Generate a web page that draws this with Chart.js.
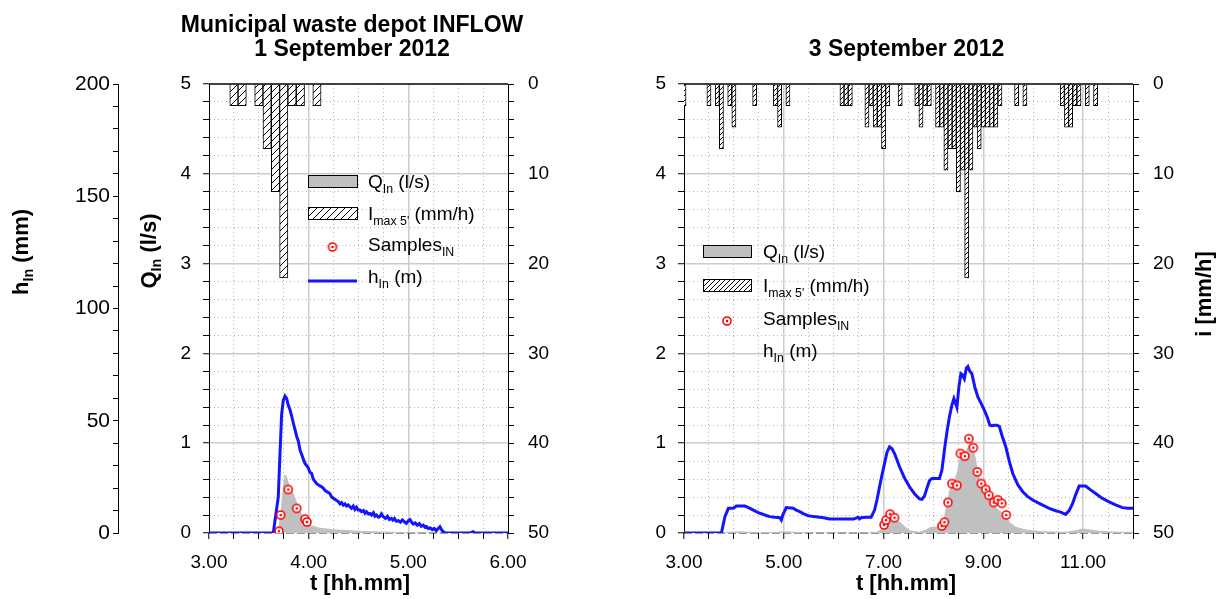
<!DOCTYPE html>
<html>
<head>
<meta charset="utf-8">
<script src="https://cdn.jsdelivr.net/npm/chart.js@4.4.0/dist/chart.umd.min.js"></script>
<style>
  html, body { margin: 0; padding: 0; background: #fff; }
  #wrap { position: relative; width: 1219px; height: 599px; overflow: hidden; }
  canvas { position: absolute; top: 0; }
  #left { left: 0; }
  #right { left: 600px; }
</style>
</head>
<body>
<div id="wrap">
  <canvas id="left" width="600" height="599"></canvas>
  <canvas id="right" width="619" height="599"></canvas>
</div>
<script>
// ---- data: [time (h), value] ----
// 1 September 2012
const rain1 = [[3.25, 2.4], [3.333, 2.4], [3.5, 2.4], [3.583, 7.2], [3.667, 12.0], [3.75, 21.6],
  [3.833, 2.4], [3.917, 2.4], [4.083, 2.4]];
const flow1 = [[3.0, 0], [3.68, 0], [3.7, 0.08], [3.72, 0.25], [3.74, 0.5], [3.76, 0.66], [3.78, 0.63],
  [3.8, 0.56], [3.83, 0.48], [3.85, 0.44], [3.88, 0.35], [3.91, 0.26], [3.95, 0.17], [3.98, 0.13],
  [4.02, 0.09], [4.05, 0.078], [4.1, 0.06], [4.18, 0.05], [4.28, 0.04], [4.38, 0.033], [4.5, 0.025],
  [4.71, 0.018], [4.9, 0.01], [5.2, 0.005], [5.5, 0], [6.0, 0]];
const level1 = [[3.0, 0], [3.645, 0], [3.695, 16], [3.712, 35], [3.729, 53], [3.745, 59], [3.762, 61],
  [3.779, 60], [3.795, 57], [3.812, 55], [3.83, 52], [3.846, 49], [3.863, 46], [3.88, 43], [3.896, 41],
  [3.913, 37], [3.93, 35], [3.946, 33], [3.963, 31], [3.98, 30], [3.996, 29], [4.013, 27], [4.03, 26.5],
  [4.046, 24], [4.063, 23], [4.08, 22], [4.096, 21.5], [4.113, 21], [4.13, 20.6], [4.146, 20], [4.163, 19],
  [4.18, 18.5], [4.197, 18], [4.214, 17.5], [4.23, 16], [4.247, 15.5], [4.264, 15], [4.28, 14.5],
  [4.297, 14], [4.314, 13], [4.33, 13.5], [4.347, 12.4], [4.364, 13], [4.38, 12], [4.397, 12.5],
  [4.414, 11.7], [4.43, 11], [4.447, 12], [4.464, 10.5], [4.48, 11.5], [4.497, 10.2], [4.515, 10.2],
  [4.53, 9.5], [4.55, 10], [4.565, 8.8], [4.58, 9.5], [4.6, 8.5], [4.615, 8.7], [4.63, 8], [4.65, 9],
  [4.665, 7.5], [4.68, 8], [4.7, 7], [4.715, 7.3], [4.73, 8.5], [4.75, 7.2], [4.77, 6.5], [4.79, 7.5],
  [4.81, 6], [4.83, 6.5], [4.845, 5.8], [4.86, 6.5], [4.88, 5.2], [4.9, 5.5], [4.92, 4.8], [4.94, 5.8],
  [4.96, 5], [4.98, 4.3], [5.0, 5.5], [5.016, 6], [5.03, 5], [5.05, 4], [5.07, 4.5], [5.09, 3.5],
  [5.11, 4.2], [5.13, 3], [5.15, 3.5], [5.17, 2.5], [5.184, 2.8], [5.2, 2], [5.22, 2.3], [5.24, 1.5],
  [5.26, 2], [5.28, 1], [5.3, 2], [5.317, 2.8], [5.34, 1], [5.367, 0], [5.62, 0], [5.648, 0.6],
  [5.67, 0], [6.0, 0]];
const samples1 = [[3.702, 0.02], [3.719, 0.2], [3.795, 0.485], [3.88, 0.274], [3.963, 0.155], [3.983, 0.122]];

// 3 September 2012
const rain3 = [[3.0, 2.4], [3.5, 2.4], [3.667, 2.4], [3.75, 7.2], [3.917, 2.4], [4.0, 4.8], [4.417, 2.4],
  [4.833, 2.4], [4.917, 4.8], [5.083, 2.4], [6.167, 2.4], [6.25, 2.4], [6.333, 2.4], [6.667, 4.8],
  [6.75, 2.4], [6.833, 4.8], [6.917, 4.8], [7.0, 7.2], [7.083, 2.4], [7.333, 2.4], [7.667, 2.4],
  [7.75, 4.8], [7.833, 2.4], [7.917, 2.4], [8.083, 4.8], [8.167, 4.8], [8.25, 9.6], [8.333, 7.2],
  [8.417, 7.2], [8.5, 12.0], [8.583, 9.6], [8.667, 21.6], [8.75, 9.6], [8.833, 4.8], [8.917, 7.2],
  [9.0, 4.8], [9.083, 4.8], [9.167, 4.8], [9.25, 4.8], [9.333, 2.4], [9.667, 2.4], [9.833, 2.4],
  [10.583, 2.4], [10.667, 4.8], [10.75, 4.8], [10.833, 2.4], [10.917, 2.4], [11.083, 2.4], [11.25, 2.4]];
const flow3 = [[3.0, 0], [3.6, 0], [3.75, 0.005], [3.9, 0.015], [4.1, 0.02], [4.4, 0.01], [4.8, 0.01],
  [5.0, 0.02], [5.2, 0.015], [5.6, 0.005], [6.2, 0.005], [6.6, 0.005], [6.85, 0.01], [6.95, 0.04],
  [7.0, 0.07], [7.1, 0.12], [7.19, 0.144], [7.25, 0.14], [7.32, 0.126], [7.4, 0.09], [7.52, 0.03],
  [7.72, 0.015], [7.85, 0.04], [7.95, 0.07], [8.12, 0.07], [8.2, 0.15], [8.25, 0.29], [8.32, 0.48],
  [8.42, 0.59], [8.48, 0.7], [8.51, 0.81], [8.55, 0.85], [8.65, 0.92], [8.72, 1.0], [8.75, 1.01],
  [8.82, 0.92], [8.89, 0.7], [8.99, 0.48], [9.12, 0.37], [9.25, 0.29], [9.39, 0.22], [9.52, 0.126],
  [9.65, 0.07], [9.85, 0.04], [10.19, 0.02], [10.65, 0.015], [10.85, 0.03], [10.99, 0.05],
  [11.15, 0.04], [11.32, 0.025], [11.7, 0.015], [12.0, 0.015]];
const level3 = [[3.0, 0], [3.75, 0], [3.82, 7.3], [3.89, 11], [3.99, 11], [4.05, 12], [4.22, 12],
  [4.27, 11.5], [4.32, 11], [4.38, 10.3], [4.45, 9.5], [4.52, 8.8], [4.59, 8.3], [4.65, 7.8], [4.72, 7.3],
  [4.82, 7], [4.92, 6.8], [4.95, 5.8], [4.98, 8], [5.05, 11.3], [5.19, 11], [5.25, 10.2], [5.32, 9.5],
  [5.4, 8.5], [5.49, 7.7], [5.6, 7.3], [5.72, 7], [5.8, 6.8], [5.92, 6.2], [6.1, 6.2], [6.25, 6.2],
  [6.4, 6.2], [6.49, 7], [6.52, 6.3], [6.55, 6.8], [6.65, 7], [6.75, 7], [6.82, 10.2], [6.87, 15],
  [6.92, 20.6], [6.97, 26], [7.02, 31], [7.07, 36], [7.12, 38.4], [7.17, 37.5], [7.22, 35.4],
  [7.27, 32.5], [7.32, 29.5], [7.42, 24.5], [7.52, 20.6], [7.62, 17.5], [7.72, 15.2], [7.77, 15],
  [7.82, 16.5], [7.87, 20], [7.92, 23.3], [7.97, 24.3], [8.12, 24.3], [8.17, 28], [8.22, 36.9],
  [8.27, 45], [8.32, 51.7], [8.37, 57], [8.41, 59.9], [8.47, 56], [8.51, 65], [8.55, 71], [8.58, 70.5],
  [8.62, 68.7], [8.66, 73.5], [8.69, 74.2], [8.73, 72], [8.77, 71], [8.83, 65], [8.89, 60.6], [8.95, 58],
  [9.02, 54.7], [9.08, 51.5], [9.13, 48], [9.17, 47.8], [9.22, 48], [9.27, 48], [9.32, 47.5], [9.38, 43],
  [9.45, 38.4], [9.52, 32], [9.59, 26.5], [9.69, 21.5], [9.79, 18.4], [9.89, 16.2], [9.99, 14.7],
  [10.09, 13.5], [10.19, 12.4], [10.32, 11], [10.45, 9.9], [10.55, 9.3], [10.65, 8.3], [10.72, 10],
  [10.79, 13.2], [10.85, 17], [10.92, 20.9], [11.05, 20.9], [11.15, 19.2], [11.25, 17.6], [11.38, 15.5],
  [11.52, 13.9], [11.65, 12.5], [11.79, 11.3], [11.9, 11], [12.0, 11]];
const samples3 = [[7.01, 0.09], [7.05, 0.144], [7.13, 0.21], [7.22, 0.17], [8.17, 0.078], [8.22, 0.12],
  [8.29, 0.34], [8.37, 0.55], [8.47, 0.53], [8.54, 0.885], [8.63, 0.856], [8.71, 1.05], [8.8, 0.95],
  [8.88, 0.68], [8.96, 0.55], [9.05, 0.485], [9.11, 0.42], [9.21, 0.34], [9.29, 0.37], [9.37, 0.33],
  [9.46, 0.2]];

const FONT = 'Arial, "Liberation Sans", sans-serif';
Chart.defaults.font.family = FONT;
Chart.defaults.font.size = 19;
Chart.defaults.color = '#000';

const BLUE = '#1414ff';
const GREY = '#c0c0c0';

function pts(arr) { return arr.map(p => ({x: p[0], y: p[1]})); }
function isWhole(v) { return Math.abs(v - Math.round(v)) < 1e-6; }
function tickList(lo, hi, step) {
  const a = [];
  for (let k = 0; lo + k * step <= hi + 1e-9; k++) a.push({value: +(lo + k * step).toFixed(4)});
  return a;
}

function hatch(canvas, size) {
  const c = document.createElement('canvas');
  c.width = size; c.height = size;
  const g = c.getContext('2d');
  g.fillStyle = '#fff'; g.fillRect(0, 0, size, size);
  g.strokeStyle = '#000'; g.lineWidth = 1;
  g.beginPath();
  g.moveTo(0, size); g.lineTo(size, 0);
  g.moveTo(-1, 1); g.lineTo(1, -1);
  g.moveTo(size - 1, size + 1); g.lineTo(size + 1, size - 1);
  g.stroke();
  return canvas.getContext('2d').createPattern(c, 'repeat');
}

function sampleIcon() {
  const c = document.createElement('canvas');
  c.width = 12; c.height = 12;
  const g = c.getContext('2d');
  g.beginPath(); g.arc(6, 6, 4, 0, Math.PI * 2);
  g.fillStyle = '#fff'; g.fill();
  g.lineWidth = 1.6; g.strokeStyle = '#f00'; g.stroke();
  g.beginPath(); g.arc(6, 6, 1.3, 0, Math.PI * 2);
  g.fillStyle = '#f00'; g.fill();
  return c;
}
const ICON = sampleIcon();

// text with subscripts: parts = [[text, isSub], ...]
function rich(ctx, parts, x, y, size, bold, align) {
  const f = s => (bold ? 'bold ' : '') + s + 'px ' + FONT;
  let w = 0;
  parts.forEach(p => { ctx.font = f(p[1] ? size * 0.65 : size); w += ctx.measureText(p[0]).width; });
  let cx = align === 'center' ? x - w / 2 : x;
  ctx.textAlign = 'left';
  ctx.textBaseline = 'alphabetic';
  ctx.fillStyle = '#000';
  const base = y + size * 0.36;
  parts.forEach(p => {
    ctx.font = f(p[1] ? size * 0.65 : size);
    ctx.fillText(p[0], cx, p[1] ? base + size * 0.25 : base);
    cx += ctx.measureText(p[0]).width;
  });
}
function richV(ctx, parts, x, y, size) {
  ctx.save();
  ctx.translate(x, y);
  ctx.rotate(-Math.PI / 2);
  rich(ctx, parts, 0, 0, size, true, 'center');
  ctx.restore();
}

function drawLegend(ctx, L, pattern, withLine) {
  const bx = L.x, bw = L.w, tx = L.tx;
  ctx.save();
  ctx.lineWidth = 1; ctx.strokeStyle = '#000';
  ctx.fillStyle = GREY;
  ctx.fillRect(bx, L.rows[0] - 6, bw, 12);
  ctx.strokeRect(bx + 0.5, L.rows[0] - 5.5, bw, 12);
  ctx.fillStyle = pattern;
  ctx.fillRect(bx, L.rows[1] - 6, bw, 12);
  ctx.strokeRect(bx + 0.5, L.rows[1] - 5.5, bw, 12);
  ctx.drawImage(ICON, bx + bw / 2 - 6, L.rows[2] + 3 - 6);
  if (withLine) {
    ctx.strokeStyle = BLUE; ctx.lineWidth = 3;
    ctx.beginPath(); ctx.moveTo(bx, L.rows[3] + 5); ctx.lineTo(bx + bw, L.rows[3] + 5); ctx.stroke();
  }
  ctx.restore();
  rich(ctx, [['Q'], ['In', 1], [' (l/s)']], tx, L.rows[0], 19, false, 'left');
  rich(ctx, [['I'], ['max 5\'', 1], [' (mm/h)']], tx, L.rows[1], 19, false, 'left');
  rich(ctx, [['Samples'], ['IN', 1]], tx, L.rows[2], 19, false, 'left');
  rich(ctx, [['h'], ['In', 1], [' (m)']], tx, L.rows[3], 19, false, 'left');
}

function decor(extra) {
  return {
    id: 'decor',
    beforeDatasetsDraw(chart) {
      const {ctx, chartArea: a} = chart;
      ctx.save();
      ctx.strokeStyle = '#333'; ctx.lineWidth = 1.2; ctx.setLineDash([8, 3]);
      ctx.beginPath(); ctx.moveTo(a.left, a.bottom); ctx.lineTo(a.right, a.bottom); ctx.stroke();
      ctx.restore();
    },
    afterDatasetsDraw(chart) {
      const {ctx, chartArea: a} = chart;
      ctx.save();
      ctx.strokeStyle = '#000'; ctx.lineWidth = 1.5;
      ctx.beginPath(); ctx.moveTo(a.left, a.top); ctx.lineTo(a.right, a.top); ctx.stroke();
      ctx.restore();
    },
    afterDraw(chart) { extra(chart.ctx, chart); }
  };
}

function gridFor(major, lo, hi) {
  return {
    offset: false,
    color: c => (!c.tick || c.tick.value <= lo + 1e-6 || c.tick.value >= hi - 1e-6) ? 'rgba(0,0,0,0)'
      : (major(c.tick.value) ? '#cccccc' : '#b8b8b8'),
    lineWidth: c => (c.tick && major(c.tick.value)) ? 1.5 : 1,
    tickColor: '#000',
    tickWidth: 1,
    tickLength: 6
  };
}
function dashFor(major) {
  return c => (c.tick && !major(c.tick.value)) ? [1, 3] : [];
}

function buildChart(id, cfg) {
  const canvas = document.getElementById(id);
  const pattern = hatch(canvas, cfg.hatch);
  const xMajor = cfg.xMajor;
  const scales = {
    x: {
      type: 'linear', min: cfg.x0, max: cfg.x1, offset: false,
      afterBuildTicks: s => { s.ticks = tickList(cfg.x0, cfg.x1, cfg.xStep); },
      afterFit: s => { s.height = 66; },
      ticks: { autoSkip: false, maxRotation: 0, minRotation: 0, padding: 12,
        callback: v => xMajor(v) ? v.toFixed(2) : '' },
      grid: gridFor(xMajor, cfg.x0, cfg.x1),
      border: { display: false, dash: dashFor(xMajor) }
    },
    q: {
      type: 'linear', position: 'left', weight: 0, min: 0, max: 5,
      afterBuildTicks: s => { s.ticks = tickList(0, 5, 0.2); },
      afterFit: s => { s.width = cfg.qWidth; },
      ticks: { autoSkip: false, padding: 12, callback: v => isWhole(v) ? String(Math.round(v)) : '' },
      grid: gridFor(isWhole, 0, 5),
      border: { color: '#000', width: 1, dash: dashFor(isWhole) }
    },
    h: {
      type: 'linear', position: 'left', weight: 1, min: 0, max: 200, display: cfg.showH,
      afterBuildTicks: s => { s.ticks = tickList(0, 200, 10); },
      afterFit: s => { s.width = cfg.showH ? 118 : 0; },
      ticks: { autoSkip: false, padding: 3, font: { size: 21 },
        callback: v => v % 50 === 0 ? String(v) : '' },
      grid: { drawOnChartArea: false, tickLength: 5, tickColor: '#000' },
      border: { color: '#000', width: 1 }
    },
    i: {
      type: 'linear', position: 'right', reverse: true, min: 0, max: 50,
      afterBuildTicks: s => { s.ticks = tickList(0, 50, 2); },
      afterFit: s => { s.width = cfg.iWidth; },
      ticks: { autoSkip: false, padding: 14, callback: v => v % 10 === 0 ? String(v) : '' },
      grid: { drawOnChartArea: false, tickLength: 6, tickColor: '#000' },
      border: { color: '#000', width: 1 }
    }
  };

  return new Chart(canvas, {
    type: 'line',
    data: {
      datasets: [
        { type: 'line', label: 'Samples', data: pts(cfg.samples), yAxisID: 'q', showLine: false,
          pointStyle: ICON, pointRadius: 5, order: 0 },
        { type: 'line', label: 'h', data: pts(cfg.level), yAxisID: 'h', borderColor: BLUE,
          borderWidth: 3, pointRadius: 0, fill: false, tension: 0, order: 1 },
        { type: 'line', label: 'Q', data: pts(cfg.flow), yAxisID: 'q', borderWidth: 0,
          borderColor: 'rgba(0,0,0,0)', backgroundColor: GREY, fill: 'origin', pointRadius: 0, order: 2 },
        { type: 'bar', label: 'I', data: pts(cfg.rain), yAxisID: 'i', backgroundColor: pattern,
          borderColor: '#000', borderWidth: 1, barPercentage: 1, categoryPercentage: 1, order: 3 }
      ]
    },
    options: {
      responsive: false,
      animation: false,
      events: [],
      layout: { padding: { top: 84, left: 0, right: 0, bottom: 0 } },
      plugins: { legend: { display: false }, tooltip: { enabled: false } },
      scales: scales
    },
    plugins: [decor((ctx, chart) => cfg.texts(ctx, chart, pattern))]
  });
}

buildChart('left', {
  x0: 3, x1: 6, xStep: 0.25, xMajor: isWhole, qWidth: 91, iWidth: 92, showH: true, hatch: 7,
  rain: rain1, flow: flow1, level: level1, samples: samples1,
  texts: (ctx, chart, pattern) => {
    rich(ctx, [['Municipal waste depot INFLOW']], 352, 24, 23, true, 'center');
    rich(ctx, [['1 September 2012']], 352, 48, 23, true, 'center');
    rich(ctx, [['t [hh.mm]']], 360, 582, 22, true, 'center');
    richV(ctx, [['h'], ['In', 1], [' (mm)']], 20, 252, 22);
    richV(ctx, [['Q'], ['In', 1], [' (l/s)']], 148, 251, 22);
    drawLegend(ctx, { x: 308, w: 49, tx: 368, rows: [181, 213, 244, 276] }, pattern, true);
  }
});

buildChart('right', {
  x0: 3, x1: 12, xStep: 0.5, xMajor: v => isWhole(v) && Math.round(v) % 2 === 1,
  qWidth: 84, iWidth: 86, showH: false, hatch: 5,
  rain: rain3, flow: flow3, level: level3, samples: samples3,
  texts: (ctx, chart, pattern) => {
    rich(ctx, [['3 September 2012']], 306.5, 48, 23, true, 'center');
    rich(ctx, [['t [hh.mm]']], 306, 582, 22, true, 'center');
    richV(ctx, [['i [mm/h]']], 603, 294, 22);
    drawLegend(ctx, { x: 103, w: 48, tx: 163, rows: [251, 285, 318, 350] }, pattern, false);
  }
});
</script>
</body>
</html>
